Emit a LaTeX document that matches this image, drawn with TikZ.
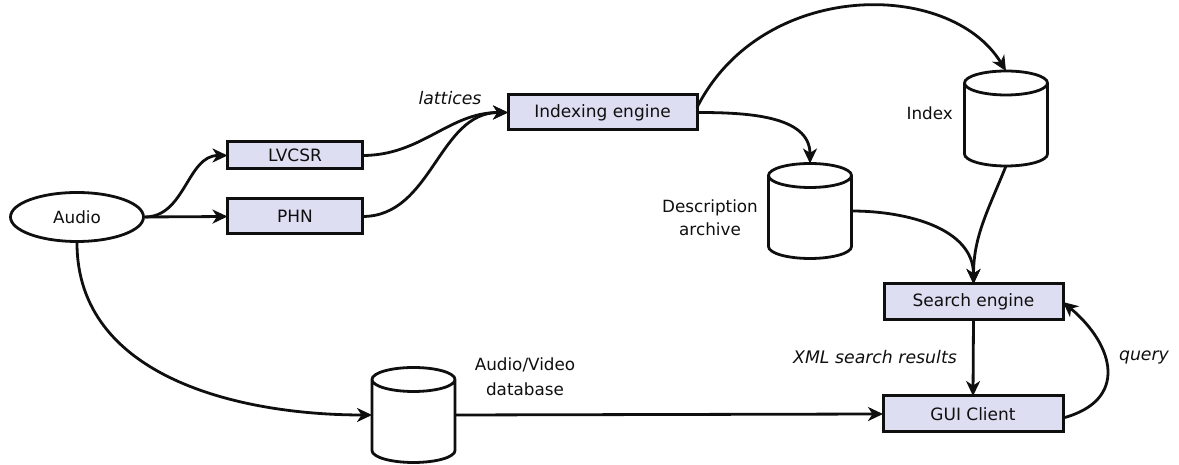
\documentclass[tikz,border=0pt]{standalone}
\usepackage{fontspec}
\setmainfont{DejaVu Sans}
\usetikzlibrary{arrows.meta,shapes.geometric}
\definecolor{boxfill}{RGB}{221,222,242}
\definecolor{ink}{RGB}{15,15,15}
\tikzset{
  procbox/.style={draw=ink, fill=boxfill, line width=3pt, rectangle, inner sep=0pt, outer sep=0pt, font=\fontsize{17}{20}\selectfont, text=ink},
  dbnode/.style={rectangle, inner sep=0pt, outer sep=0pt, minimum width=83pt, minimum height=95pt},
  lbl/.style={font=\fontsize{16.8}{24}\selectfont, text=ink, inner sep=0pt, align=center},
  ilbl/.style={font=\fontsize{17.3}{20}\selectfont\itshape, text=ink, inner sep=0pt},
  conn/.style={draw=ink, line width=2.8pt, -{Stealth[length=15pt,width=14pt,inset=4.5pt]}},
  cylline/.style={draw=ink, fill=white, line width=2.8pt},
}
\newcommand\drawdb[1]{%
  \path[cylline] ([yshift=-12pt]#1.north west) -- ([yshift=12pt]#1.south west)
    arc[start angle=180,end angle=360,x radius=41.5pt,y radius=12pt]
    -- ([yshift=-12pt]#1.north east)
    arc[start angle=0,end angle=360,x radius=41.5pt,y radius=12pt];}
\begin{document}
\begin{tikzpicture}[x=1pt,y=1pt]
\useasboundingbox (0,0) rectangle (1179,465);
% nodes
\node[ellipse, draw=ink, line width=2.8pt, minimum width=133pt, minimum height=49pt, lbl] (audio) at (77,248) {Audio};
\node[procbox, minimum width=135pt, minimum height=27pt] (lvcsr) at (295,309.5) {LVCSR};
\node[procbox, minimum width=135pt, minimum height=35pt] (phn) at (295,248.5) {PHN};
\node[procbox, minimum width=189pt, minimum height=35pt] (idx) at (602.5,352.5) {Indexing engine};
\node[dbnode] (desc) at (810,254) {};
\node[dbnode] (index) at (1006,346.5) {};
\node[dbnode] (avdb) at (413.5,50) {};
\drawdb{desc}
\drawdb{index}
\drawdb{avdb}
\node[procbox, minimum width=179pt, minimum height=36pt] (search) at (973.5,163) {Search engine};
\node[procbox, minimum width=180pt, minimum height=36pt] (gui) at (973,51) {GUI Client};
% labels
\node[ilbl] (latt) at (450,367) {lattices};
\node[lbl, anchor=east] (indexlbl) at (953,352) {Index};
\node[lbl, font=\fontsize{16.8}{23}\selectfont] (desclbl) at (710,247) {Description\\archive};
\node[lbl, font=\fontsize{16.8}{25}\selectfont] (avlbl) at (525,88) {Audio/Video\\database};
\node[ilbl, anchor=east] (xml) at (957,108) {XML search results};
\node[ilbl] (qlbl) at (1144,108) {query};
% connectors
\draw[conn] (audio.east) to[out=0,in=180] (lvcsr.west);
\draw[conn] (audio.east) -- (phn.west);
\draw[conn] (lvcsr.east) to[out=0,in=180] (idx.west);
\draw[conn] (phn.east) to[out=0,in=180] (idx.west);
\draw[conn] ([yshift=5pt]idx.east) .. controls (762,486) and (950,486) .. (index.north);
\draw[conn] (idx.east) to[out=0,in=90] (desc.north);
\draw[conn] (desc.east) to[out=0,in=90] (search.north);
\draw[conn] (index.south) to[out=-112,in=90] (search.north);
\draw[conn] (search.south) -- (gui.north);
\draw[conn] ([yshift=-4pt]gui.east) to[out=15,in=-40,looseness=1.5] (search.east);
\draw[conn] (audio.south) to[out=-90,in=180] (avdb.west);
\draw[conn] (avdb.east) -- (gui.west);
\end{tikzpicture}
\end{document}
